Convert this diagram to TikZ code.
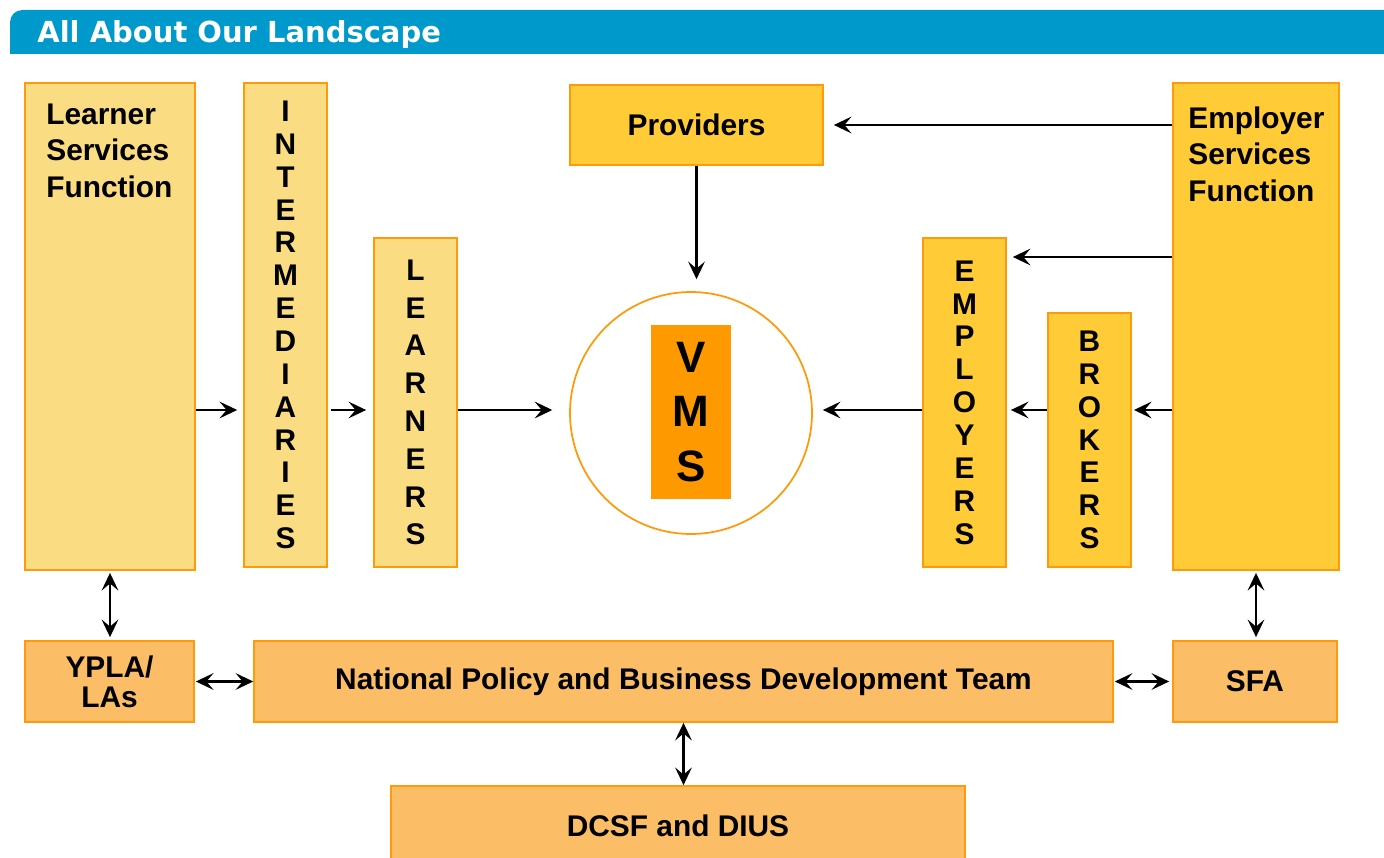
\documentclass[tikz,border=0pt]{standalone}
\usepackage{fontspec}
\setmainfont{Liberation Sans}
\newfontfamily\titlefont{DejaVu Sans}
\usetikzlibrary{arrows.meta}
\definecolor{barblue}{HTML}{0099CC}
\definecolor{boxline}{HTML}{FF9A0A}
\definecolor{paleyellow}{HTML}{FADC82}
\definecolor{goldyellow}{HTML}{FFCB36}
\definecolor{peach}{HTML}{FBBD66}
\definecolor{vmsorange}{HTML}{FF9900}

\begin{document}
\begin{tikzpicture}[x=0.02cm,y=-0.02cm,
	box/.style={draw=boxline,line width=1pt,inner sep=0pt,font=\bfseries\fontsize{17}{20.7}\selectfont},
	pale/.style={box,fill=paleyellow},
	gold/.style={box,fill=goldyellow},
	peachbox/.style={box,fill=peach,align=center},
	vert/.style={align=center,font=\bfseries\fontsize{17}{18.7}\selectfont},
	arr/.style={line width=1.3pt,-{Stealth[length=10pt,width=9.5pt,inset=4pt]}},
	twoway/.style={line width=1.3pt,{Stealth[length=10pt,width=9.5pt,inset=4pt]}-{Stealth[length=10pt,width=9.5pt,inset=4pt]}}]
	\useasboundingbox (0,0) rectangle (1384,858);
	\clip (0,0) rectangle (1384,858);
	\fill[barblue] (10,54) [rounded corners=7pt] -- (10,10) [sharp corners] -- (1400,10) -- (1400,54) -- cycle;
	\node[anchor=base west,inner sep=0pt,text=white,font=\titlefont\bfseries\fontsize{16.5}{19}\selectfont] (title) at (37,43) {All About Our Landscape};
	\node[pale,minimum width=3.4cm,minimum height=9.74cm] (lsf) at (110,326.5) {};
	\node[anchor=north west,inner sep=0pt,align=left,font=\bfseries\fontsize{17}{20.7}\selectfont] (lsftext) at (46,103.5) {Learner\\Services\\Function};
	\node[pale,vert,minimum width=1.66cm,minimum height=9.68cm] (inter) at (285.5,325) {I\\N\\T\\E\\R\\M\\E\\D\\I\\A\\R\\I\\E\\S};
	\node[pale,vert,font=\bfseries\fontsize{17}{21.5}\selectfont,minimum width=1.66cm,minimum height=6.58cm] (learners) at (415.5,402.5) {L\\E\\A\\R\\N\\E\\R\\S};
	\node[gold,minimum width=5.06cm,minimum height=1.6cm] (prov) at (696.5,125) {Providers};
	\node[circle,draw=boxline,line width=1pt,fill=white,minimum size=4.84cm] (vms) at (691,413) {};
	\node[fill=vmsorange,inner sep=0pt,align=center,minimum width=1.6cm,minimum height=3.48cm,font=\bfseries\fontsize{25}{31}\selectfont] (vmsbox) at (691,412) {V\\M\\S};
	\node[gold,vert,minimum width=1.66cm,minimum height=6.58cm] (employers) at (964.5,402.5) {E\\M\\P\\L\\O\\Y\\E\\R\\S};
	\node[gold,vert,minimum width=1.66cm,minimum height=5.08cm] (brokers) at (1089.5,440) {B\\R\\O\\K\\E\\R\\S};
	\node[gold,minimum width=3.32cm,minimum height=9.74cm] (esf) at (1256,326.5) {};
	\node[anchor=north west,inner sep=0pt,align=left,font=\bfseries\fontsize{17}{20.7}\selectfont] (esftext) at (1188,106.5) {Employer\\Services\\Function};
	\node[peachbox,font=\bfseries\fontsize{17}{17}\selectfont,minimum width=3.38cm,minimum height=1.62cm] (ypla) at (109.5,681.5) {YPLA/\\LAs};
	\node[peachbox,minimum width=17.18cm,minimum height=1.62cm] (npbd) at (683.5,681.5) {National Policy and Business Development Team};
	\node[peachbox,minimum width=3.28cm,minimum height=1.62cm] (sfa) at (1255,681.5) {SFA};
	\node[peachbox,minimum width=11.48cm,minimum height=1.6cm] (dcsf) at (678,826) {DCSF and DIUS};
	\coordinate (row) at (0,410);
	\coordinate (emprow) at (0,257);
	\draw[arr,shorten >=3.4pt] (lsf.east |- row) -- (inter.west |- row);
	\draw[arr,shorten <=1.7pt,shorten >=4pt] (inter.east |- row) -- (learners.west |- row);
	\draw[arr,shorten >=9.6pt] (learners.east |- row) -- (vms.west |- row);
	\draw[arr,shorten >=6.8pt] (prov.south) -- (prov.south |- vms.north);
	\draw[arr,shorten >=5.7pt] (esf.west |- prov) -- (prov.east);
	\draw[arr,shorten >=3.4pt] (esf.west |- emprow) -- (employers.east |- emprow);
	\draw[arr,shorten >=1.2pt] (esf.west |- row) -- (brokers.east |- row);
	\draw[arr,shorten >=2.3pt] (brokers.west |- row) -- (employers.east |- row);
	\draw[arr,shorten >=5.7pt] (employers.west |- row) -- (vms.east |- row);
	\draw[twoway,shorten <=1.2pt,shorten >=1.7pt] (lsf.south) -- (lsf.south |- ypla.north);
	\draw[twoway,shorten <=1.2pt,shorten >=1.7pt] (esf.south) -- (esf.south |- sfa.north);
	\draw[twoway,shorten <=0.6pt] (ypla.east) -- (npbd.west);
	\draw[twoway,shorten <=0.6pt,shorten >=1.7pt] (npbd.east) -- (sfa.west);
	\draw[twoway] (npbd.south) -- (npbd.south |- dcsf.north);
\end{tikzpicture}
\end{document}
